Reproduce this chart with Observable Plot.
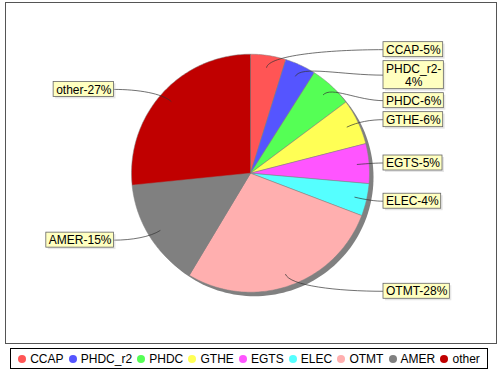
<!DOCTYPE html>
<html><head><meta charset="utf-8">
<script src="https://cdn.jsdelivr.net/npm/d3@7"></script>
<script src="https://cdn.jsdelivr.net/npm/@observablehq/plot@0.6"></script>
<style>
body{margin:0;background:#fff;font-family:"Liberation Sans",Arial,sans-serif;}
#chart{position:absolute;left:0;top:0;}
#legend{position:absolute;left:10px;top:348px;width:476px;height:19px;border:1px solid #000;display:flex;align-items:center;justify-content:center;font-size:12px;color:#000;white-space:nowrap;font-family:"Liberation Sans",Arial,sans-serif;}
#legend .it{display:flex;align-items:center;margin:0 2.6px;}
#legend .dot{width:8px;height:8px;border-radius:50%;margin-right:4px;}
</style></head><body>
<div id="chart"></div><div id="legend"></div>
<script>
const categories = ["CCAP","PHDC_r2","PHDC","GTHE","EGTS","ELEC","OTMT","AMER","other"];
const shares = [4.8,4.2,5.8,6.2,5.4,4.4,27.8,14.8,26.6];
const colors = ["#ff5555","#5555ff","#55ff55","#ffff55","#ff55ff","#55ffff","#ffafaf","#808080","#c00000"];

const W = 500, H = 346, mL = 5, mR = 4, mT = 2, mB = 3;
const CX = 250, CY = 172.7, R = 119;
const toX = px => (px - CX) / R, toY = py => (CY - py) / R;

const total = d3.sum(shares);
let cum = 0;
const slices = categories.map((name, i) => {
  const a0 = cum / total * 2 * Math.PI; cum += shares[i];
  const a1 = cum / total * 2 * Math.PI;
  return {name, value: shares[i], a0, a1, mid: (a0 + a1) / 2};
});
const slicePts = slices.flatMap(s => {
  const n = Math.max(2, Math.ceil((s.a1 - s.a0) / (Math.PI / 180)));
  const pts = [{name: s.name, x: 0, y: 0}];
  for (let k = 0; k <= n; k++) { const a = s.a0 + (s.a1 - s.a0) * k / n; pts.push({name: s.name, x: Math.sin(a), y: Math.cos(a)}); }
  pts.push({name: s.name, x: 0, y: 0});
  return pts;
});
const off = 4 / R;
const shadowPts = d3.range(0, 361, 2).map(d => ({x: Math.sin(d * Math.PI / 180) + off, y: Math.cos(d * Math.PI / 180) - off}));

// label layout
const ctx = document.createElement("canvas").getContext("2d");
ctx.font = "12px 'Liberation Sans'";
const maxLabelW = 64, padX = 2.5, lineH = 13;
const labels = slices.map(s => {
  let text = `${s.name}-${Math.round(s.value)}%`;
  let lines = [text];
  if (ctx.measureText(text).width > maxLabelW) { const k = text.lastIndexOf("-"); lines = [text.slice(0, k + 1), text.slice(k + 1)]; }
  const wpx = d3.max(lines, l => ctx.measureText(l).width) + 2 * padX;
  const hpx = lines.length * lineH + 2;
  const right = Math.sin(s.mid) >= 0;
  const cyPx = CY - 1.05 * R * Math.cos(s.mid);
  return {name: s.name, s, text: lines.join("\n"), wpx, hpx, right, top: cyPx - hpx / 2};
});
for (const side of [true, false]) {
  const ls = labels.filter(l => l.right === side).sort((a, b) => a.top - b.top);
  let prev = -Infinity;
  for (const l of ls) { l.top = Math.max(l.top, prev + 4); prev = l.top + l.hpx; }
}
labels.forEach(l => {
  const x1px = l.right ? CX + 133 : CX - 136.5 - l.wpx;
  l.x1 = toX(x1px); l.x2 = toX(x1px + l.wpx);
  l.y1 = toY(l.top); l.y2 = toY(l.top + l.hpx);
  l.tx = (l.x1 + l.x2) / 2; l.ty = (l.y1 + l.y2) / 2;
  l.sx1 = l.x1 + 2 / R; l.sx2 = l.x2 + 2 / R; l.sy1 = l.y1 - 2 / R; l.sy2 = l.y2 - 2 / R;
});
const links = labels.flatMap(l => {
  const m = l.s.mid;
  const ex = Math.sin(m), ey = Math.cos(m);
  const ax = 0.9 * Math.sin(m), ay = 0.9 * Math.cos(m);
  const lx = l.right ? l.x1 : l.x2, ly = l.ty;
  return [
    {name: l.name, x: lx, y: ly},
    {name: l.name, x: lx - 0.5 * (lx - ex), y: ly},
    {name: l.name, x: ex, y: ey},
    {name: l.name, x: ax, y: ay}
  ];
});
const bezier = context => ({
  areaStart() {}, areaEnd() {},
  lineStart() { this._p = []; },
  point(x, y) { this._p.push([x, y]); },
  lineEnd() {
    const p = this._p; context.moveTo(p[0][0], p[0][1]);
    for (let i = 1; i + 2 < p.length; i += 3) context.bezierCurveTo(p[i][0], p[i][1], p[i+1][0], p[i+1][1], p[i+2][0], p[i+2][1]);
  }
});

const chart = Plot.plot({
  width: W, height: H,
  marginLeft: mL, marginRight: mR, marginTop: mT, marginBottom: mB,
  x: {domain: [toX(mL), toX(W - mR)], axis: null},
  y: {domain: [toY(H - mB), toY(mT)], axis: null},
  color: {domain: categories, range: colors},
  style: {fontFamily: "'Liberation Sans', Arial, sans-serif", background: "#fff"},
  marks: [
    Plot.line(shadowPts, {x: "x", y: "y", fill: "#808080", stroke: "none"}),
    Plot.line(slicePts, {x: "x", y: "y", z: "name", fill: "name", stroke: "#808080", strokeWidth: 0.5}),
    Plot.line(links, {x: "x", y: "y", z: "name", curve: bezier, stroke: "#333", strokeWidth: 0.7}),
    Plot.rect(labels, {x1: "sx1", x2: "sx2", y1: "sy1", y2: "sy2", fill: "#c8c8c8", fillOpacity: 0.45}),
    Plot.rect(labels, {x1: "x1", x2: "x2", y1: "y1", y2: "y2", fill: "#ffffc0", stroke: "#666", strokeWidth: 0.8}),
    Plot.text(labels, {x: "tx", y: "ty", text: "text", fontSize: 12, lineHeight: lineH / 12, fill: "#000"}),
    Plot.frame({stroke: "#555"})
  ]
});
document.getElementById("chart").append(chart);

const legend = document.getElementById("legend");
categories.forEach((c, i) => {
  const it = document.createElement("div"); it.className = "it";
  const dot = document.createElement("span"); dot.className = "dot"; dot.style.background = colors[i];
  const t = document.createElement("span"); t.textContent = c;
  it.append(dot, t); legend.append(it);
});
</script>
</body></html>
